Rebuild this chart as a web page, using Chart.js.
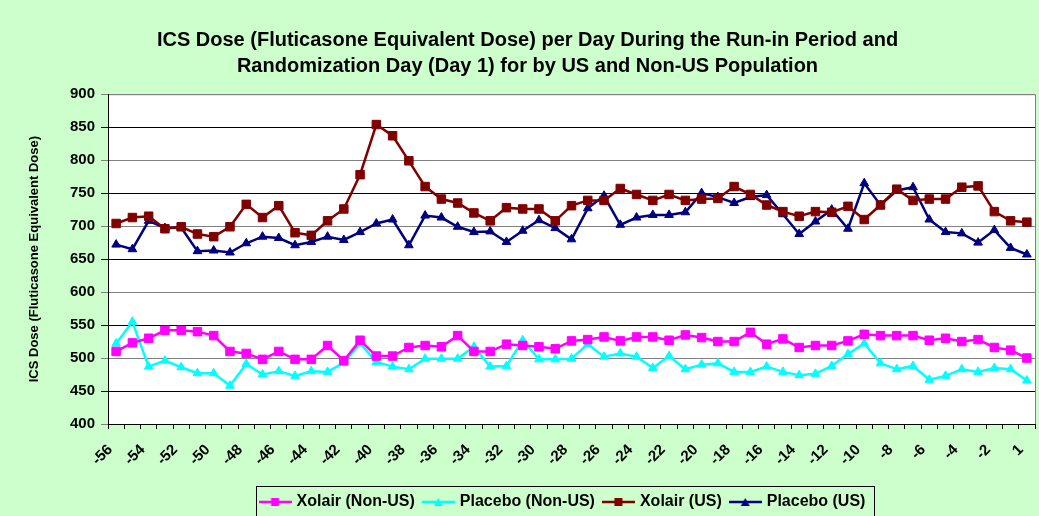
<!DOCTYPE html>
<html>
<head>
<meta charset="utf-8">
<title>ICS Dose per Day</title>
<script src="https://cdn.jsdelivr.net/npm/chart.js"></script>
<style>
  html, body { margin: 0; padding: 0; background: #ccffcc; }
  canvas { display: block; }
</style>
</head>
<body>
<canvas id="doseChart" width="1039" height="516"></canvas>
<script>
  // study day (x categories)
  const days = ['-56','-55','-54','-53','-52','-51','-50','-49','-48','-47','-46','-45','-44','-43','-42','-41',
    '-40','-39','-38','-37','-36','-35','-34','-33','-32','-31','-30','-29','-28','-27','-26','-25','-24','-23',
    '-22','-21','-20','-19','-18','-17','-16','-15','-14','-13','-12','-11','-10','-9','-8','-7','-6','-5','-4',
    '-3','-2','-1','1'];

  // values
  const xolairNonUS = [510, 523, 530, 542, 542, 540, 534, 510, 507, 498, 510, 498, 498, 519, 496, 527, 503, 503, 516,
    519, 517, 534, 510, 510, 521, 519, 517, 514, 526, 528, 532, 526, 532, 532, 527, 535, 531, 525, 525, 539, 521,
    529, 516, 519, 519, 526, 536, 534, 534, 534, 527, 530, 525, 528, 516, 512, 500];
  const placeboNonUS = [522, 555, 487, 496, 486, 477, 477, 458, 491, 475, 480, 473, 480, 479, 493, 522, 494, 487, 483,
    499, 499, 499, 517, 487, 488, 527, 498, 498, 499, 521, 502, 507, 502, 485, 503, 483, 490, 492, 479, 479, 487,
    479, 474, 476, 488, 506, 522, 492, 483, 488, 467, 473, 483, 479, 485, 483, 466];
  const xolairUS = [704, 713, 715, 696, 699, 688, 684, 699, 733, 713, 731, 690, 686, 708, 726, 778, 854, 837, 799,
    760, 741, 735, 720, 708, 728, 726, 726, 708, 731, 739, 739, 757, 748, 739, 748, 739, 741, 742, 760, 748, 732,
    722, 715, 722, 721, 730, 710, 732, 756, 739, 741, 741, 759, 761, 722, 708, 706];
  const placeboUS = [672, 665, 708, 697, 698, 662, 663, 660, 674, 684, 682, 671, 676, 684, 679, 691, 704, 710, 671,
    716, 713, 699, 691, 692, 676, 693, 709, 697, 680, 727, 746, 702, 713, 717, 717, 721, 750, 744, 735, 744, 747,
    718, 688, 707, 725, 696, 765, 732, 754, 759, 710, 691, 689, 675, 694, 667, 657];

  Chart.defaults.font.family = "'Liberation Sans', Arial, sans-serif";
  Chart.defaults.color = '#000';

  // little line+marker picture for the legend
  function legendIcon(color, shape) {
    const c = document.createElement('canvas');
    c.width = 33; c.height = 12;
    const g = c.getContext('2d');
    g.strokeStyle = color; g.fillStyle = color; g.lineWidth = 2.5;
    g.beginPath(); g.moveTo(0, 6); g.lineTo(33, 6); g.stroke();
    if (shape === 'rect') {
      g.fillRect(12.5, 2, 8, 8);
    } else {
      g.beginPath(); g.moveTo(16.5, 2); g.lineTo(21, 10); g.lineTo(12, 10); g.closePath(); g.fill();
    }
    return c;
  }

  const chartBg = {
    id: 'chartBg',
    beforeInit(chart) {
      const fit = chart.legend.fit;
      chart.legend.fit = function () { fit.call(this); this.height = 32; };
    },
    afterLayout(chart) {
      chart.legend.left += 36;
      chart.legend.right += 36;
    },
    beforeDraw(chart) {
      const { ctx, chartArea: a } = chart;
      ctx.save();
      ctx.fillStyle = '#ccffcc';
      ctx.fillRect(0, 0, chart.width, chart.height);
      ctx.fillStyle = '#ffffff';
      ctx.fillRect(a.left, a.top, a.right - a.left, a.bottom - a.top);
      ctx.strokeStyle = '#808080';
      ctx.lineWidth = 1;
      ctx.beginPath();
      ctx.moveTo(a.left, a.top + 0.5); ctx.lineTo(a.right + 0.5, a.top + 0.5);
      ctx.lineTo(a.right + 0.5, a.bottom);
      ctx.stroke();
      ctx.restore();
    },
    afterDraw(chart) {
      const boxes = chart.legend.legendHitBoxes;
      if (!boxes || !boxes.length) return;
      const l = Math.min(...boxes.map(b => b.left)) - 6;
      const r = Math.max(...boxes.map(b => b.left + b.width)) + 8;
      const { ctx } = chart;
      ctx.save();
      ctx.strokeStyle = '#000';
      ctx.lineWidth = 1;
      ctx.strokeRect(Math.round(l) + 0.5, 486.5, Math.round(r - l), 40);
      ctx.restore();
    }
  };

  const ctx = document.getElementById('doseChart').getContext('2d');
  new Chart(ctx, {
    type: 'line',
    data: {
      labels: days,
      datasets: [
        { label: 'Xolair (Non-US)', data: xolairNonUS, borderColor: '#ff00ff', backgroundColor: '#ff00ff',
          pointStyle: 'rect', pointRadius: 6, borderWidth: 2.5, pointBorderWidth: 1, icon: legendIcon('#ff00ff', 'rect') },
        { label: 'Placebo (Non-US)', data: placeboNonUS, borderColor: '#00ffff', backgroundColor: '#00ffff',
          pointStyle: 'triangle', pointRadius: 5, borderWidth: 2.5, pointBorderWidth: 1, icon: legendIcon('#00ffff', 'tri') },
        { label: 'Xolair (US)', data: xolairUS, borderColor: '#800000', backgroundColor: '#800000',
          pointStyle: 'rect', pointRadius: 6, borderWidth: 2.5, pointBorderWidth: 1, icon: legendIcon('#800000', 'rect') },
        { label: 'Placebo (US)', data: placeboUS, borderColor: '#000080', backgroundColor: '#000080',
          pointStyle: 'triangle', pointRadius: 5, borderWidth: 2.5, pointBorderWidth: 1, icon: legendIcon('#000080', 'tri') }
      ]
    },
    options: {
      responsive: false,
      animation: false,
      devicePixelRatio: 1,
      layout: { autoPadding: false, padding: { left: 20, right: 4, top: 0, bottom: 0 } },
      scales: {
        x: {
          offset: true,
          grid: { offset: true, drawOnChartArea: false, tickLength: 5, color: '#000' },
          border: { color: '#000', width: 1 },
          ticks: {
            autoSkip: false, maxRotation: 45, minRotation: 45, padding: 12, labelOffset: -6,
            font: { size: 15, weight: 'bold' },
            callback: (v, i) => (i % 2 === 0 ? days[i] : '')
          },
          afterFit: s => { s.height = 60; s.paddingLeft = 0; s.paddingRight = 0; }
        },
        y: {
          min: 400, max: 900,
          ticks: { stepSize: 50, padding: 6, font: { size: 15, weight: 'bold' } },
          grid: { color: c => (c.tick.value % 100 === 0 ? '#808080' : '#000000'), tickLength: 7 },
          border: { color: '#000', width: 1 },
          title: {
            display: true, text: 'ICS Dose (Fluticasone Equivalent Dose)',
            font: { size: 13, weight: 'bold' }, padding: { top: 7, bottom: 0 }
          },
          afterFit: s => { s.width = 88; s.paddingTop = 0; s.paddingBottom = 0; }
        }
      },
      plugins: {
        title: {
          display: true,
          text: ['ICS Dose (Fluticasone Equivalent Dose) per Day During the Run-in Period and',
                 'Randomization Day (Day 1) for by US and Non-US Population'],
          font: { size: 20, weight: 'bold', lineHeight: 1.33 },
          padding: { top: 27, bottom: 14 }
        },
        legend: {
          position: 'bottom',
          labels: {
            usePointStyle: true, pointStyleWidth: 27, padding: 10,
            font: { size: 16, weight: 'bold' },
            generateLabels(chart) {
              const items = Chart.defaults.plugins.legend.labels.generateLabels(chart);
              items.forEach(it => { it.pointStyle = chart.data.datasets[it.datasetIndex].icon; });
              return items;
            }
          }
        },
        tooltip: { enabled: false }
      }
    },
    plugins: [chartBg]
  });
</script>
</body>
</html>
